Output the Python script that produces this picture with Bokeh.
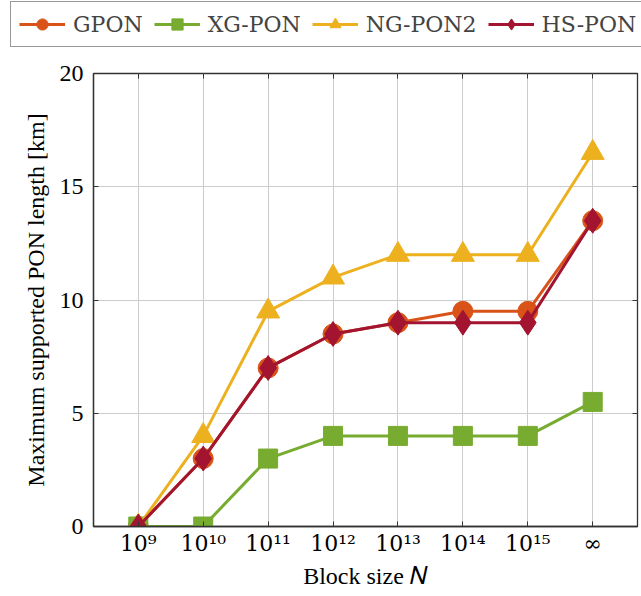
from bokeh.plotting import figure
from bokeh.models import Legend, LegendItem, FixedTicker, Range1d, LinearAxis
from bokeh.embed import file_html
from bokeh.resources import INLINE

# ---- data ----
block_sizes = ["10⁹", "10¹⁰", "10¹¹", "10¹²", "10¹³", "10¹⁴", "10¹⁵", "∞"]
x_pos = list(range(len(block_sizes)))
gpon = [0, 3, 7, 8.5, 9, 9.5, 9.5, 13.5]
xgpon = [0, 0, 3, 4, 4, 4, 4, 5.5]
ngpon2 = [0, 4, 9.5, 11, 12, 12, 12, 16.5]
hspon = [0, 3, 7, 8.5, 9, 9, 9, 13.5]
y_ticks = [0, 5, 10, 15, 20]

FONT = "Liberation Serif"
FS = "24px"
LEG_H = 52

series = [
    ("GPON", gpon, "#D95319", "circle", 20),
    ("XG-PON", xgpon, "#77AC30", "square", 19),
    ("NG-PON2", ngpon2, "#EDB120", "triangle", 23),
    ("HS-PON", hspon, "#A2142F", "diamond", 25),
]

# ---- main plot ----
p = figure(width=641, height=596 - LEG_H, x_range=Range1d(-0.69, 7.69), y_range=Range1d(0, 20),
           output_backend="svg", toolbar_location=None,
           min_border_left=93, min_border_right=4, min_border_top=73 - LEG_H, min_border_bottom=70)

p.outline_line_color = "#333333"
p.outline_line_width = 1.3
p.grid.grid_line_color = "#cccccc"
p.grid.grid_line_width = 1
p.xaxis.ticker = FixedTicker(ticks=x_pos)
p.xaxis.major_label_overrides = {i: s for i, s in enumerate(block_sizes)}
p.yaxis.ticker = FixedTicker(ticks=y_ticks)
for ax in (p.xaxis[0], p.yaxis[0]):
    ax.axis_line_color = "#333333"
    ax.axis_line_width = 1.3
    ax.major_tick_in = 5
    ax.major_tick_out = 0
    ax.major_tick_line_color = "#333333"
    ax.minor_tick_line_color = None
    ax.major_label_text_font = FONT
    ax.major_label_text_font_size = FS
    ax.major_label_text_color = "black"
    ax.axis_label_text_font = FONT
    ax.axis_label_text_font_size = FS
    ax.axis_label_text_font_style = "normal"
    ax.axis_label_text_color = "black"
p.xaxis.major_label_text_font = "DejaVu Serif"
p.xaxis.major_label_text_font_size = "22px"
p.xaxis.axis_label = "Block size 𝑁"
p.yaxis.axis_label = "Maximum supported PON length [km]"
p.xaxis.major_label_standoff = 4
p.xaxis.axis_label_standoff = 4
p.yaxis.major_label_standoff = 10
p.yaxis.axis_label_standoff = 8

# inward ticks on the right and top edges (no labels)
for loc, ticks in (("right", y_ticks), ("above", x_pos)):
    ax = LinearAxis(ticker=FixedTicker(ticks=ticks),
                    major_label_overrides={t: "" for t in ticks},
                    major_label_standoff=0, major_tick_in=5, major_tick_out=0,
                    minor_tick_line_color=None, axis_line_color=None,
                    major_tick_line_color="#333333")
    p.add_layout(ax, loc)

for name, ys, color, marker, size in series:
    p.line(x_pos, ys, line_color=color, line_width=3)
    p.scatter(x_pos, ys, marker=marker, size=size, fill_color=color, line_color=color)

# ---- legend strip (same series, drawn out of view) ----
leg = figure(width=641, height=LEG_H, x_range=Range1d(100, 101), y_range=Range1d(100, 101),
             output_backend="svg", toolbar_location=None,
             x_axis_location=None, y_axis_location=None,
             min_border=0, min_border_left=0, min_border_right=0, min_border_top=0, min_border_bottom=0)
leg.grid.visible = False
leg.outline_line_color = None
items = []
for name, ys, color, marker, size in series:
    l = leg.line(x_pos, ys, line_color=color, line_width=3)
    s = leg.scatter(x_pos, ys, marker=marker, size=size, fill_color=color, line_color=color)
    items.append(LegendItem(label=name, renderers=[l, s]))

legend = Legend(items=items, orientation="horizontal", location=(10, 5),
                label_text_font="DejaVu Serif", label_text_font_size="22px",
                glyph_width=46, glyph_height=28, spacing=11, padding=8,
                border_line_color="#333333", border_line_width=1.3,
                margin=0, label_standoff=8)
leg.add_layout(legend, "center")

open("out.html", "w").write(file_html([leg, p], INLINE))
